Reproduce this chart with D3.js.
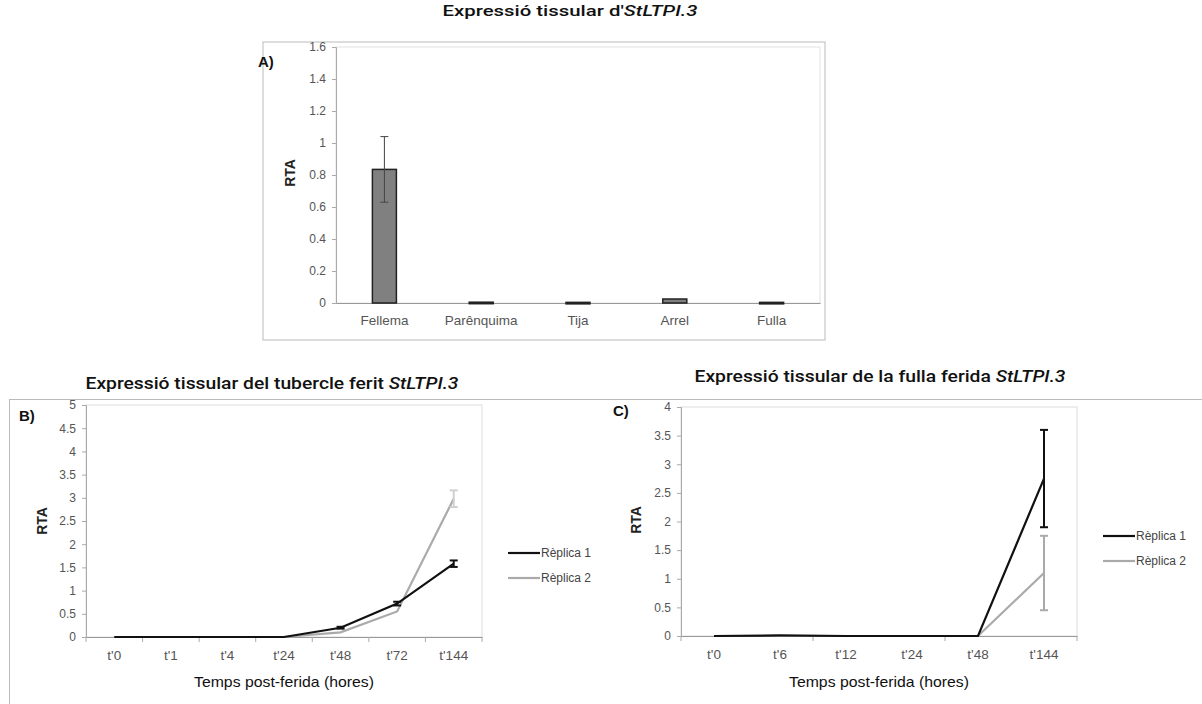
<!DOCTYPE html>
<html>
<head>
<meta charset="utf-8">
<script src="https://cdn.jsdelivr.net/npm/d3@7"></script>
<style>
  body { margin: 0; background: #fff; }
  text { font-family: "Liberation Sans", Arial, sans-serif; }
  .title { font-family: Roboto, "Liberation Sans", sans-serif; fill: #111; }
  .tick text { fill: #555; }
</style>
</head>
<body>
<svg id="chart" width="1202" height="704"></svg>
<script>
// A) tissues
const catsA = ["Fellema", "Parênquima", "Tija", "Arrel", "Fulla"];
const valsA = [0.835, 0.005, 0.004, 0.025, 0.004];
const errA = [0.205, 0, 0, 0, 0];
const ticksA = [0, 0.2, 0.4, 0.6, 0.8, 1, 1.2, 1.4, 1.6];

// B) wounded tuber
const timesB = ["t'0", "t'1", "t'4", "t'24", "t'48", "t'72", "t'144"];
const rep1B = [0, 0, 0, 0, 0.2, 0.72, 1.58];
const rep1BErr = [0, 0, 0, 0, 0.02, 0.04, 0.07];
const rep2B = [0, 0, 0, 0, 0.1, 0.55, 2.98];
const rep2BErr = [0, 0, 0, 0, 0, 0, 0.18];
const ticksB = [0, 0.5, 1, 1.5, 2, 2.5, 3, 3.5, 4, 4.5, 5];

// C) wounded leaf
const timesC = ["t'0", "t'6", "t'12", "t'24", "t'48", "t'144"];
const rep1C = [0, 0.01, 0, 0, 0, 2.75];
const rep1CErr = [0, 0, 0, 0, 0, 0.85];
const rep2C = [0, 0, 0, 0, 0, 1.1];
const rep2CErr = [0, 0, 0, 0, 0, 0.65];
const ticksC = [0, 0.5, 1, 1.5, 2, 2.5, 3, 3.5, 4];

const seriesNames = ["Rèplica 1", "Rèplica 2"];
const seriesColors = ["#111", "#aaa"];

const svg = d3.select("#chart");

// outer frames
svg.append("rect").attr("x", 263).attr("y", 42).attr("width", 562).attr("height", 298)
  .attr("fill", "none").attr("stroke", "#bbb");
svg.append("line").attr("x1", 9).attr("x2", 1202).attr("y1", 399.5).attr("y2", 399.5).attr("stroke", "#bbb");
svg.append("line").attr("x1", 9.5).attr("x2", 9.5).attr("y1", 399).attr("y2", 704).attr("stroke", "#bbb");

function title(x, y, size, width, plain, ital) {
  const t = svg.append("text").attr("class", "title")
    .attr("x", x).attr("y", y).attr("text-anchor", "middle")
    .attr("font-size", size).attr("font-weight", 500)
    .attr("textLength", width).attr("lengthAdjust", "spacingAndGlyphs");
  t.append("tspan").text(plain);
  t.append("tspan").attr("font-style", "italic").text(ital);
}

function yAxis(g, y, x0, ticks) {
  const ax = g.append("g").attr("transform", `translate(${x0},0)`)
    .call(d3.axisLeft(y).tickValues(ticks).tickSize(4).tickPadding(6).tickFormat(d3.format("")));
  ax.select(".domain").attr("stroke", "#aaa");
  ax.selectAll(".tick line").attr("stroke", "#aaa");
  ax.selectAll(".tick text").attr("font-size", 12);
}

function xAxis(g, x, y0, every) {
  const ax = g.append("g").attr("transform", `translate(0,${y0})`)
    .call(d3.axisBottom(x).tickSize(0).tickPadding(13));
  ax.select(".domain").attr("stroke", "#999");
  ax.selectAll(".tick text").attr("font-size", 13.5);
  // tick marks on category boundaries
  const bounds = d3.range(0, x.domain().length + 1, every);
  g.selectAll(null).data(bounds).enter().append("line")
    .attr("x1", i => x.range()[0] + i * x.step())
    .attr("x2", i => x.range()[0] + i * x.step())
    .attr("y1", y0).attr("y2", y0 + 5).attr("stroke", "#aaa");
}

function rtaLabel(x, y) {
  svg.append("text").attr("transform", `translate(${x},${y}) rotate(-90)`)
    .attr("text-anchor", "middle").attr("font-size", 14).attr("font-weight", "bold")
    .attr("fill", "#222").text("RTA");
}

function panelLabel(x, y, t) {
  svg.append("text").attr("x", x).attr("y", y).attr("font-size", 15)
    .attr("font-weight", "bold").attr("fill", "#111").text(t);
}

// ---------- A ----------
title(570, 16, 15, 255, "Expressió tissular d'", "StLTPI.3");
panelLabel(258, 67, "A)");
const gA = svg.append("g");
const xA = d3.scaleBand().domain(catsA).range([336, 820]);
const yA = d3.scaleLinear().domain([0, 1.6]).range([303, 47]);
gA.append("rect").attr("x", 336).attr("y", 47).attr("width", 484).attr("height", 256)
  .attr("fill", "none").attr("stroke", "#e2e2e2");
yAxis(gA, yA, 336, ticksA);
const axA = gA.append("g").attr("transform", "translate(0,303)")
  .call(d3.axisBottom(xA).tickSize(0).tickPadding(12));
axA.select(".domain").attr("stroke", "#999");
axA.selectAll(".tick text").attr("font-size", 13.5);
gA.selectAll(".bar").data(valsA).enter().append("rect")
  .attr("x", (d, i) => xA(catsA[i]) + xA.bandwidth() / 2 - 12)
  .attr("y", d => yA(d))
  .attr("width", 24)
  .attr("height", d => Math.max(1.5, yA(0) - yA(d)))
  .attr("fill", "#808080").attr("stroke", "#222").attr("stroke-width", 1.5);
valsA.forEach((v, i) => {
  if (!errA[i]) return;
  const cx = xA(catsA[i]) + xA.bandwidth() / 2;
  gA.append("line").attr("x1", cx).attr("x2", cx)
    .attr("y1", yA(v + errA[i])).attr("y2", yA(v - errA[i])).attr("stroke", "#444");
  [v + errA[i], v - errA[i]].forEach(e => gA.append("line")
    .attr("x1", cx - 4).attr("x2", cx + 4).attr("y1", yA(e)).attr("y2", yA(e)).attr("stroke", "#444"));
});
rtaLabel(295, 173);

// ---------- line panels ----------
function linePanel(cfg) {
  const g = svg.append("g");
  const x = d3.scaleBand().domain(cfg.cats).range(cfg.xr);
  const y = d3.scaleLinear().domain([0, cfg.ymax]).range(cfg.yr);
  g.append("rect").attr("x", cfg.xr[0]).attr("y", cfg.yr[1])
    .attr("width", cfg.xr[1] - cfg.xr[0]).attr("height", cfg.yr[0] - cfg.yr[1])
    .attr("fill", "none").attr("stroke", "#ddd");
  yAxis(g, y, cfg.xr[0], cfg.ticks);
  xAxis(g, x, cfg.yr[0], cfg.every);
  const cx = c => x(c) + x.bandwidth() / 2;
  // draw replica 2 first so replica 1 sits on top
  [1, 0].forEach(s => {
    const vals = cfg.series[s], errs = cfg.errs[s];
    g.append("path").datum(vals)
      .attr("fill", "none").attr("stroke", seriesColors[s]).attr("stroke-width", 2.2)
      .attr("d", d3.line().x((d, i) => cx(cfg.cats[i])).y(d => y(d)));
    vals.forEach((v, i) => {
      if (!errs[i]) return;
      const px = cx(cfg.cats[i]);
      const col = s ? cfg.errCol2 : seriesColors[0];
      g.append("line").attr("x1", px).attr("x2", px)
        .attr("y1", y(v + errs[i])).attr("y2", y(v - errs[i]))
        .attr("stroke", col).attr("stroke-width", 2);
      [v + errs[i], v - errs[i]].forEach(e => g.append("line")
        .attr("x1", px - 4).attr("x2", px + 4).attr("y1", y(e)).attr("y2", y(e))
        .attr("stroke", col).attr("stroke-width", 2));
    });
  });
  // legend
  seriesNames.forEach((n, s) => {
    const ly = cfg.legY + s * 25;
    g.append("line").attr("x1", cfg.legX).attr("x2", cfg.legX + 32)
      .attr("y1", ly).attr("y2", ly).attr("stroke", seriesColors[s]).attr("stroke-width", 2.2);
    g.append("text").attr("x", cfg.legX + 33).attr("y", ly + 4)
      .attr("font-size", 12).attr("fill", "#444").text(n);
  });
  svg.append("text").attr("x", (cfg.xr[0] + cfg.xr[1]) / 2).attr("y", 687)
    .attr("text-anchor", "middle").attr("font-size", 15).attr("fill", "#111")
    .attr("textLength", 180).attr("lengthAdjust", "spacingAndGlyphs")
    .text("Temps post-ferida (hores)");
}

title(272, 389, 17, 373, "Expressió tissular del tubercle ferit ", "StLTPI.3");
panelLabel(19, 421, "B)");
linePanel({
  cats: timesB, xr: [86, 482], yr: [637, 405], ymax: 5, ticks: ticksB, every: 1,
  series: [rep1B, rep2B], errs: [rep1BErr, rep2BErr], errCol2: "#d0d0d0", legX: 508, legY: 553
});
rtaLabel(47, 521);

title(880, 382, 17, 371, "Expressió tissular de la fulla ferida ", "StLTPI.3");
panelLabel(613, 416, "C)");
linePanel({
  cats: timesC, xr: [681, 1077], yr: [636, 407], ymax: 4, ticks: ticksC, every: 2,
  series: [rep1C, rep2C], errs: [rep1CErr, rep2CErr], errCol2: "#aaa", legX: 1103, legY: 536
});
rtaLabel(641, 520);
</script>
</body>
</html>
